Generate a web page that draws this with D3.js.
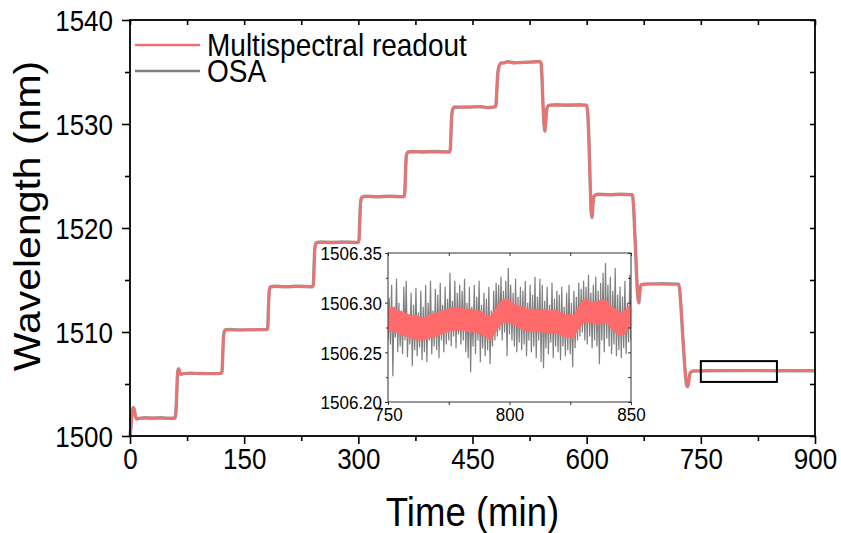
<!DOCTYPE html>
<html>
<head>
<meta charset="utf-8">
<script src="https://cdn.jsdelivr.net/npm/d3@7"></script>
<style>
  body { margin: 0; background: #fff; }
  svg { display: block; font-family: "Liberation Sans", Arial, sans-serif; }
</style>
</head>
<body>
<div id="chart"></div>
<script>
// whole run, time in min, wavelength in nm
const mainTime = [
  0, 1, 2.5, 4, 5.5, 7, 9, 12, 20, 30, 40, 50, 59,
  60, 61, 62, 63, 64, 65.5, 67, 70, 80, 95, 110, 120,
  121, 122, 123, 124.5, 126, 130, 145, 160, 180,
  181, 182, 183, 184.5, 186, 190, 205, 220, 240,
  241, 242, 243, 244.5, 246, 250, 265, 280, 300,
  301, 302, 303, 304.5, 306, 310, 325, 340, 360,
  361, 362, 363, 364.5, 366, 370, 385, 400, 420,
  421, 422, 423, 424.5, 426, 430, 445, 460, 470, 480,
  481, 482, 483, 484.5, 486, 488, 491, 496, 505, 512, 520, 530, 538, 540,
  541, 542.5, 544, 545, 546.5, 548, 551, 560, 575, 590, 600,
  601.5, 603, 604.5, 606, 607, 608.5, 610, 615, 630, 645, 660,
  661.5, 663, 665, 667, 668.5, 670, 672, 680, 700, 721,
  722.5, 724, 726, 728, 730, 731.5, 733, 734.5, 736, 740, 760, 800, 850, 900
];
const multiMain = [
  1500.0, 1500.6, 1502.0, 1502.7, 1502.6, 1502.0, 1501.6, 1501.7, 1501.7, 1501.75, 1501.7, 1501.7, 1501.75,
  1502.0, 1503.2, 1505.2, 1506.3, 1506.5, 1506.1, 1505.9, 1506.0, 1506.0, 1506.05, 1506.0, 1506.0,
  1506.2, 1508.0, 1509.6, 1510.1, 1510.25, 1510.2, 1510.2, 1510.25, 1510.2,
  1510.4, 1512.4, 1513.9, 1514.3, 1514.4, 1514.35, 1514.4, 1514.35, 1514.4,
  1514.6, 1516.6, 1518.1, 1518.5, 1518.6, 1518.6, 1518.65, 1518.6, 1518.65,
  1518.9, 1520.9, 1522.4, 1522.9, 1523.0, 1523.0, 1523.05, 1523.0, 1523.0,
  1523.3, 1525.3, 1526.8, 1527.2, 1527.35, 1527.3, 1527.35, 1527.3, 1527.35,
  1527.6, 1529.6, 1531.0, 1531.45, 1531.6, 1531.65, 1531.6, 1531.7, 1531.55, 1531.7,
  1531.9, 1533.2, 1534.6, 1535.4, 1535.7, 1535.85, 1535.9, 1535.95, 1535.85, 1535.95, 1535.9, 1536.0, 1536.05, 1535.9,
  1535.0, 1532.2, 1530.0, 1529.4, 1530.6, 1531.6, 1531.8, 1531.8, 1531.85, 1531.8, 1531.8,
  1531.0, 1528.5, 1524.6, 1521.6, 1521.1, 1522.6, 1523.1, 1523.2, 1523.25, 1523.2, 1523.2,
  1522.3, 1520.0, 1516.6, 1513.6, 1512.9, 1514.1, 1514.6, 1514.65, 1514.6, 1514.6,
  1513.9, 1512.4, 1510.0, 1507.7, 1505.8, 1504.9, 1504.8, 1505.5, 1506.1, 1506.25, 1506.28, 1506.29, 1506.29, 1506.28
];
const osaMain = [
  1500.0, 1500.7, 1502.1, 1502.75, 1502.55, 1501.95, 1501.65, 1501.7, 1501.75, 1501.7, 1501.75, 1501.7, 1501.7,
  1502.1, 1503.3, 1505.3, 1506.35, 1506.45, 1506.05, 1505.95, 1506.0, 1506.05, 1506.0, 1506.0, 1506.05,
  1506.3, 1508.1, 1509.7, 1510.15, 1510.2, 1510.25, 1510.2, 1510.2, 1510.25,
  1510.5, 1512.5, 1514.0, 1514.35, 1514.35, 1514.4, 1514.35, 1514.4, 1514.35,
  1514.7, 1516.7, 1518.2, 1518.55, 1518.6, 1518.65, 1518.6, 1518.65, 1518.6,
  1519.0, 1521.0, 1522.5, 1522.95, 1523.0, 1523.05, 1523.0, 1523.05, 1523.0,
  1523.4, 1525.4, 1526.9, 1527.25, 1527.3, 1527.35, 1527.3, 1527.35, 1527.3,
  1527.7, 1529.7, 1531.1, 1531.5, 1531.65, 1531.6, 1531.65, 1531.65, 1531.6, 1531.65,
  1532.0, 1533.3, 1534.7, 1535.45, 1535.75, 1535.9, 1535.85, 1536.0, 1535.9, 1535.9, 1535.95, 1535.95, 1536.0, 1535.85,
  1534.9, 1532.1, 1529.9, 1529.3, 1530.5, 1531.55, 1531.8, 1531.85, 1531.8, 1531.85, 1531.8,
  1530.9, 1528.4, 1524.5, 1521.5, 1521.0, 1522.5, 1523.1, 1523.25, 1523.2, 1523.25, 1523.2,
  1522.2, 1519.9, 1516.5, 1513.5, 1512.8, 1514.0, 1514.55, 1514.6, 1514.65, 1514.6,
  1513.8, 1512.3, 1509.9, 1507.6, 1505.7, 1504.85, 1504.75, 1505.45, 1506.05, 1506.25, 1506.27, 1506.29, 1506.28, 1506.28
];

// zoomed window, OSA sampled every 0.5 min from 750 to 850
const insetStart = 750, insetStep = 0.5;
const insetOsa = [
  1506.262, 1506.305, 1506.258, 1506.318, 1506.226, 1506.296, 1506.265, 1506.324, 1506.250, 1506.300,
  1506.256, 1506.292, 1506.248, 1506.316, 1506.262, 1506.322, 1506.245, 1506.288, 1506.258, 1506.310,
  1506.236, 1506.298, 1506.252, 1506.315, 1506.246, 1506.290, 1506.255, 1506.312, 1506.242, 1506.296,
  1506.250, 1506.318, 1506.240, 1506.300, 1506.262, 1506.322, 1506.248, 1506.292, 1506.256, 1506.314,
  1506.252, 1506.308, 1506.244, 1506.320, 1506.262, 1506.298, 1506.250, 1506.316, 1506.258, 1506.304,
  1506.262, 1506.330, 1506.256, 1506.302, 1506.266, 1506.322, 1506.254, 1506.310, 1506.268, 1506.318,
  1506.258, 1506.312, 1506.262, 1506.324, 1506.250, 1506.300, 1506.244, 1506.316, 1506.230, 1506.296,
  1506.256, 1506.318, 1506.248, 1506.306, 1506.262, 1506.322, 1506.240, 1506.298, 1506.254, 1506.310,
  1506.246, 1506.304, 1506.252, 1506.316, 1506.238, 1506.292, 1506.256, 1506.312, 1506.262, 1506.320,
  1506.266, 1506.318, 1506.272, 1506.326, 1506.262, 1506.312, 1506.270, 1506.322, 1506.246, 1506.335,
  1506.268, 1506.318, 1506.262, 1506.310, 1506.256, 1506.324, 1506.250, 1506.306, 1506.260, 1506.316,
  1506.252, 1506.312, 1506.258, 1506.322, 1506.246, 1506.300, 1506.262, 1506.318, 1506.250, 1506.308,
  1506.256, 1506.326, 1506.244, 1506.306, 1506.262, 1506.324, 1506.240, 1506.318, 1506.234, 1506.302,
  1506.254, 1506.316, 1506.248, 1506.298, 1506.260, 1506.320, 1506.244, 1506.304, 1506.256, 1506.312,
  1506.250, 1506.308, 1506.242, 1506.316, 1506.256, 1506.296, 1506.246, 1506.310, 1506.252, 1506.318,
  1506.248, 1506.300, 1506.235, 1506.312, 1506.254, 1506.306, 1506.262, 1506.320, 1506.266, 1506.314,
  1506.270, 1506.322, 1506.262, 1506.316, 1506.258, 1506.328, 1506.266, 1506.310, 1506.254, 1506.318,
  1506.262, 1506.326, 1506.256, 1506.312, 1506.238, 1506.320, 1506.262, 1506.330, 1506.250, 1506.340,
  1506.264, 1506.318, 1506.256, 1506.326, 1506.248, 1506.312, 1506.258, 1506.335, 1506.246, 1506.308,
  1506.252, 1506.316, 1506.244, 1506.306, 1506.254, 1506.322, 1506.248, 1506.300, 1506.260, 1506.328,
  1506.262
];
// multispectral readout in the window: noise band, upper/lower edge every 2 min
const insetMsTime = [
  750, 752, 754, 756, 758, 760, 762, 764, 766, 768, 770, 772, 774, 776, 778, 780, 782, 784, 786, 788,
  790, 792, 794, 796, 798, 800, 802, 804, 806, 808, 810, 812, 814, 816, 818, 820, 822, 824, 826, 828,
  830, 832, 834, 836, 838, 840, 842, 844, 846, 848, 850
];
const insetMsUpper = [
  1506.294, 1506.296, 1506.292, 1506.291, 1506.289, 1506.287, 1506.287, 1506.285, 1506.287, 1506.289,
  1506.290, 1506.292, 1506.293, 1506.295, 1506.296, 1506.295, 1506.294, 1506.294, 1506.292, 1506.292,
  1506.289, 1506.287, 1506.294, 1506.300, 1506.304, 1506.303, 1506.299, 1506.297, 1506.296, 1506.294,
  1506.294, 1506.293, 1506.294, 1506.292, 1506.293, 1506.291, 1506.290, 1506.288, 1506.288, 1506.295,
  1506.302, 1506.304, 1506.301, 1506.301, 1506.304, 1506.302, 1506.297, 1506.293, 1506.290, 1506.294,
  1506.300
];
const insetMsLower = [
  1506.269, 1506.271, 1506.269, 1506.267, 1506.265, 1506.264, 1506.262, 1506.262, 1506.263, 1506.265,
  1506.266, 1506.268, 1506.270, 1506.271, 1506.272, 1506.272, 1506.271, 1506.270, 1506.270, 1506.268,
  1506.266, 1506.262, 1506.269, 1506.276, 1506.280, 1506.279, 1506.277, 1506.274, 1506.272, 1506.271,
  1506.271, 1506.270, 1506.270, 1506.269, 1506.269, 1506.268, 1506.266, 1506.265, 1506.264, 1506.271,
  1506.278, 1506.280, 1506.279, 1506.277, 1506.279, 1506.279, 1506.273, 1506.269, 1506.266, 1506.270,
  1506.277
];

const xTicks = [0, 150, 300, 450, 600, 750, 900];
const xMinor = [75, 225, 375, 525, 675, 825];
const yTicks = [1500, 1510, 1520, 1530, 1540];
const yMinor = [1505, 1515, 1525, 1535];
const insetXTicks = [750, 800, 850];
const insetXMinor = [775, 825];
const insetYTicks = [1506.20, 1506.25, 1506.30, 1506.35];
const insetYMinor = [1506.225, 1506.275, 1506.325];
const legendLabels = ["Multispectral readout", "OSA"];
const zoomBox = { t0: 750, t1: 850, w0: 1505.2, w1: 1507.2 };

const W = 841, H = 533;
const margin = { top: 20, right: 26, bottom: 97, left: 130 };
const width = W - margin.left - margin.right;
const height = H - margin.top - margin.bottom;
const SY = 1.12; // the glyphs in the picture are a bit taller than wide
const RED = "#f07070", INSET_RED = "#ff6b6b", GREY = "#808080";

const svg = d3.select("#chart").append("svg")
  .attr("width", W)
  .attr("height", H);

const g = svg.append("g")
  .attr("transform", `translate(${margin.left},${margin.top})`);

const x = d3.scaleLinear().domain([0, 900]).range([0, width]);
const y = d3.scaleLinear().domain([1500, 1540]).range([height, 0]);

// axes
function styleAxis(sel) {
  sel.select(".domain").remove();
  sel.selectAll("line").attr("stroke", "#000").attr("stroke-width", 1.6);
}

g.append("g").attr("transform", `translate(0,${height})`)
  .call(d3.axisBottom(x).tickValues(xTicks).tickSize(8).tickFormat(d3.format("d")))
  .call(styleAxis)
  .call(a => a.selectAll("text")
    .attr("dy", null).attr("y", 33 / SY)
    .attr("transform", `scale(1,${SY})`)
    .attr("font-size", 26).attr("fill", "#000"));
g.append("g").attr("transform", `translate(0,${height})`)
  .call(d3.axisBottom(x).tickValues(xMinor).tickSize(5).tickFormat(""))
  .call(styleAxis);
g.append("g")
  .call(d3.axisTop(x).tickValues(xTicks.concat(xMinor)).tickSize(-5).tickFormat(""))
  .call(styleAxis);

g.append("g")
  .call(d3.axisLeft(y).tickValues(yTicks).tickSize(8).tickPadding(9).tickFormat(d3.format("d")))
  .call(styleAxis)
  .call(a => a.selectAll("text")
    .attr("dy", null).attr("y", "0.358em")
    .attr("transform", `scale(1,${SY})`)
    .attr("font-size", 26).attr("fill", "#000"));
g.append("g")
  .call(d3.axisLeft(y).tickValues(yMinor).tickSize(5).tickFormat(""))
  .call(styleAxis);
g.append("g").attr("transform", `translate(${width},0)`)
  .call(d3.axisRight(y).tickValues(yTicks.concat(yMinor)).tickSize(-5).tickFormat(""))
  .call(styleAxis);

// traces
const mainLine = vals => d3.line()
  .x((d, i) => x(mainTime[i]))
  .y(d => y(d))
  .curve(d3.curveMonotoneX)(vals);

g.append("path")
  .attr("d", mainLine(osaMain))
  .attr("fill", "none")
  .attr("stroke", GREY)
  .attr("stroke-width", 3.4)
  .attr("stroke-opacity", 0.8);

g.append("path")
  .attr("d", mainLine(multiMain))
  .attr("fill", "none")
  .attr("stroke", RED)
  .attr("stroke-width", 2.5);

// zoom window marker
g.append("rect")
  .attr("x", x(zoomBox.t0))
  .attr("y", y(zoomBox.w1))
  .attr("width", x(zoomBox.t1) - x(zoomBox.t0))
  .attr("height", y(zoomBox.w0) - y(zoomBox.w1))
  .attr("fill", "none")
  .attr("stroke", "#000")
  .attr("stroke-width", 2);

// frame
g.append("rect")
  .attr("width", width)
  .attr("height", height)
  .attr("fill", "none")
  .attr("stroke", "#000")
  .attr("stroke-width", 1.8);

// legend
const legend = g.append("g");
legendLabels.forEach((label, i) => {
  const ly = 25 + i * 26;
  legend.append("line")
    .attr("x1", 5).attr("x2", 70)
    .attr("y1", ly).attr("y2", ly)
    .attr("stroke", i === 0 ? RED : GREY)
    .attr("stroke-width", 2.5);
  legend.append("text")
    .attr("transform", `translate(77,${ly + 11}) scale(1,${SY})`)
    .attr("font-size", 28)
    .text(label);
});

// axis titles
svg.append("text")
  .attr("transform", `translate(${margin.left + width / 2},${H - 7}) scale(1,${SY})`)
  .attr("text-anchor", "middle")
  .attr("font-size", 36.6)
  .text("Time (min)");

svg.append("text")
  .attr("transform", `translate(40,${margin.top + 196}) rotate(-90) scale(${SY},1)`)
  .attr("text-anchor", "middle")
  .attr("font-size", 36.6)
  .text("Wavelength (nm)");

// inset
const inset = { left: 388, top: 253, right: 631, bottom: 402 };
const ix = d3.scaleLinear().domain([750, 850]).range([inset.left, inset.right]);
const iy = d3.scaleLinear().domain([1506.20, 1506.35]).range([inset.bottom, inset.top]);
const ig = svg.append("g");

ig.append("rect")
  .attr("x", inset.left).attr("y", inset.top)
  .attr("width", inset.right - inset.left)
  .attr("height", inset.bottom - inset.top)
  .attr("fill", "#fff");

svg.append("clipPath").attr("id", "insetClip")
  .append("rect")
  .attr("x", inset.left).attr("y", inset.top)
  .attr("width", inset.right - inset.left)
  .attr("height", inset.bottom - inset.top);

const plotG = ig.append("g").attr("clip-path", "url(#insetClip)");

plotG.append("path")
  .attr("d", d3.line()
    .x((d, i) => ix(insetStart + i * insetStep))
    .y(d => iy(d))(insetOsa))
  .attr("fill", "none")
  .attr("stroke", GREY)
  .attr("stroke-width", 1.2);

plotG.append("path")
  .attr("d", d3.area()
    .x((d, i) => ix(insetMsTime[i]))
    .y0((d, i) => iy(insetMsLower[i]))
    .y1(d => iy(d))
    .curve(d3.curveMonotoneX)(insetMsUpper))
  .attr("fill", INSET_RED);

function styleInset(sel) {
  sel.select(".domain").remove();
  sel.selectAll("line").attr("stroke", "#333").attr("stroke-width", 1);
}

ig.append("g").attr("transform", `translate(0,${inset.bottom})`)
  .call(d3.axisBottom(ix).tickValues(insetXTicks.concat(insetXMinor)).tickSize(3).tickFormat(""))
  .call(styleInset);
ig.append("g").attr("transform", `translate(0,${inset.bottom})`)
  .call(d3.axisBottom(ix).tickValues(insetXTicks).tickSize(0).tickFormat(d3.format("d")))
  .call(styleInset)
  .call(a => a.selectAll("text")
    .attr("dy", null).attr("y", 19 / SY)
    .attr("transform", `scale(1,${SY})`)
    .attr("font-size", 17).attr("fill", "#000"));
ig.append("g").attr("transform", `translate(0,${inset.top})`)
  .call(d3.axisTop(ix).tickValues(insetXTicks.concat(insetXMinor)).tickSize(-3).tickFormat(""))
  .call(styleInset);

ig.append("g").attr("transform", `translate(${inset.left},0)`)
  .call(d3.axisLeft(iy).tickValues(insetYTicks).tickSize(3).tickPadding(3).tickFormat(d3.format(".2f")))
  .call(styleInset)
  .call(a => a.selectAll("text")
    .attr("dy", null).attr("y", "0.358em")
    .attr("transform", `scale(1,${SY})`)
    .attr("font-size", 17).attr("fill", "#000"));
ig.append("g").attr("transform", `translate(${inset.left},0)`)
  .call(d3.axisLeft(iy).tickValues(insetYMinor).tickSize(2).tickFormat(""))
  .call(styleInset);
ig.append("g").attr("transform", `translate(${inset.right},0)`)
  .call(d3.axisRight(iy).tickValues(insetYTicks.concat(insetYMinor)).tickSize(-3).tickFormat(""))
  .call(styleInset);

ig.append("rect")
  .attr("x", inset.left).attr("y", inset.top)
  .attr("width", inset.right - inset.left)
  .attr("height", inset.bottom - inset.top)
  .attr("fill", "none")
  .attr("stroke", "#333")
  .attr("stroke-width", 1);
</script>
</body>
</html>
